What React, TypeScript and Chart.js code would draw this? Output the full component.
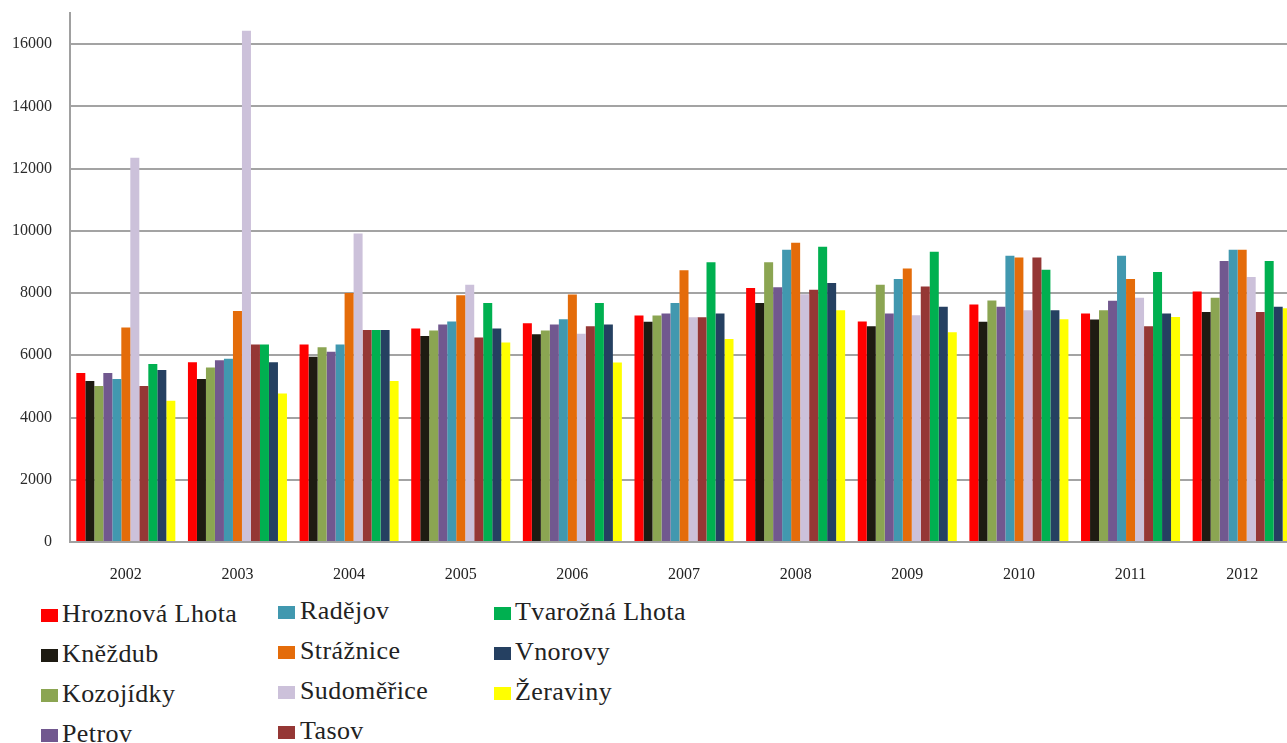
import React, { useEffect, useRef } from 'react';
import { Chart, registerables } from 'chart.js';

Chart.register(...registerables);

const years = ['2002', '2003', '2004', '2005', '2006', '2007', '2008', '2009', '2010', '2011', '2012'];
const yTickValues = [0, 2000, 4000, 6000, 8000, 10000, 12000, 14000, 16000];
const yMax = 17000;

const hroznovaLhota = [5430, 5780, 6350, 6860, 7030, 7280, 8160, 7090, 7630, 7340, 8050];
const knezdub = [5170, 5240, 5950, 6620, 6680, 7080, 7680, 6930, 7080, 7150, 7390];
const kozojidky = [5010, 5610, 6260, 6800, 6800, 7280, 8990, 8270, 7760, 7450, 7850];
const petrov = [5430, 5840, 6110, 6990, 6990, 7340, 8190, 7340, 7560, 7750, 9030];
const radejov = [5240, 5890, 6350, 7090, 7160, 7680, 9390, 8450, 9200, 9200, 9390];
const straznice = [6890, 7420, 8000, 7930, 7950, 8730, 9620, 8790, 9140, 8450, 9390];
const sudomerice = [12350, 16430, 9910, 8270, 6690, 7220, 7960, 7290, 7450, 7850, 8520];
const tasov = [5010, 6350, 6810, 6570, 6930, 7220, 8110, 8210, 9140, 6930, 7390];
const tvaroznaLhota = [5720, 6350, 6810, 7680, 7680, 8990, 9490, 9330, 8750, 8680, 9030];
const vnorovy = [5530, 5780, 6810, 6860, 6990, 7340, 8320, 7560, 7450, 7340, 7560];
const zeraviny = [4540, 4770, 5170, 6410, 5770, 6520, 7450, 6740, 7160, 7230, 7510];

const seriesNames = [
  'Hroznová Lhota', 'Kněždub', 'Kozojídky', 'Petrov', 'Radějov', 'Strážnice',
  'Sudoměřice', 'Tasov', 'Tvarožná Lhota', 'Vnorovy', 'Žeraviny',
];
const seriesValues = [
  hroznovaLhota, knezdub, kozojidky, petrov, radejov, straznice,
  sudomerice, tasov, tvaroznaLhota, vnorovy, zeraviny,
];
const seriesColors = [
  '#FF0000', '#1E1B12', '#8BA552', '#71588F', '#4198AF', '#E46C0A',
  '#CCC1DA', '#953735', '#00B050', '#254061', '#FFFF00',
];

const FONT = "'Liberation Serif', 'Times New Roman', serif";

// legend layout (4 rows per column)
const legendColX = [41, 278, 494];
const legendTextX = [62, 300, 515];
const legendColBaseline = [623, 620, 621];
const legendRowStep = 40;

export default function App() {
  const ref = useRef<HTMLCanvasElement>(null);

  useEffect(() => {
    const chart = new Chart(ref.current!, {
      type: 'bar',
      data: {
        labels: years,
        datasets: seriesNames.map((name, i) => ({
          label: name,
          data: seriesValues[i],
          backgroundColor: seriesColors[i],
          borderWidth: 0,
          categoryPercentage: 0.887,
          barPercentage: 1,
        })),
      },
      options: {
        responsive: false,
        animation: false,
        layout: { padding: { top: 13, left: 0, right: 0, bottom: 0 } },
        plugins: {
          legend: { display: false },
          tooltip: { enabled: false },
        },
        scales: {
          x: {
            grid: { display: false },
            border: { display: true, color: '#a0a0a0', width: 2 },
            ticks: {
              font: { family: FONT, size: 16 },
              color: '#222',
              padding: 15,
              maxRotation: 0,
              autoSkip: false,
            },
            afterFit: (s: any) => {
              s.height = 48;
            },
          },
          y: {
            min: 0,
            max: yMax,
            ticks: {
              font: { family: FONT, size: 16 },
              color: '#2b2b2b',
              padding: 18,
              autoSkip: false,
              callback: (v: any) => String(v),
            },
            afterBuildTicks: (s: any) => {
              s.ticks = yTickValues.map((v) => ({ value: v }));
            },
            afterFit: (s: any) => {
              s.width = 70;
              s.paddingTop = 0;
              s.paddingBottom = 0;
            },
            grid: { color: '#a3a3a3', lineWidth: 2, drawTicks: false },
            border: { display: true, color: '#a0a0a0', width: 2 },
          },
        },
      },
    });
    return () => chart.destroy();
  }, []);

  return (
    <div
      style={{
        position: 'fixed',
        left: 0,
        top: 0,
        width: 1287,
        height: 743,
        overflow: 'hidden',
        background: '#fff',
      }}
    >
      <div style={{ position: 'absolute', left: 0, top: 0 }}>
        <canvas ref={ref} width={1298} height={590} />
      </div>
      {seriesNames.map((name, i) => {
        const col = Math.floor(i / 4);
        const row = i % 4;
        const baseline = legendColBaseline[col] + row * legendRowStep;
        return (
          <React.Fragment key={name}>
            <div
              style={{
                position: 'absolute',
                left: legendColX[col],
                top: baseline - 14,
                width: 17,
                height: 13,
                background: seriesColors[i],
              }}
            />
            <div
              style={{
                position: 'absolute',
                left: legendTextX[col],
                top: baseline - 22,
                fontFamily: FONT,
                fontSize: 26,
                lineHeight: '26px',
                letterSpacing: '0.4px',
                color: '#222',
                whiteSpace: 'nowrap',
              }}
            >
              {name}
            </div>
          </React.Fragment>
        );
      })}
    </div>
  );
}
